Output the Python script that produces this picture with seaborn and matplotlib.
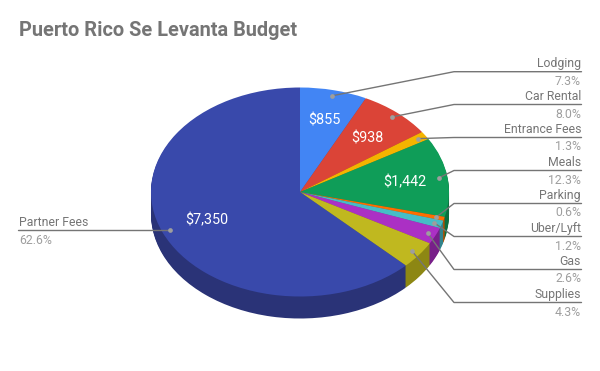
import numpy as np
import matplotlib
matplotlib.use('Agg')
import matplotlib.pyplot as plt
import seaborn as sns

categorias = ['Lodging', 'Car Rental', 'Entrance Fees', 'Meals', 'Parking',
              'Uber/Lyft', 'Gas', 'Supplies', 'Partner Fees']
valores = [855, 938, 150, 1442, 70, 140, 300, 500, 7350]
colores = ['#4285f4', '#db4437', '#f4b400', '#0f9d58', '#ff6d00',
           '#46bdc6', '#ab30c4', '#c0b81f', '#3949ab']
colores_lado = ['#2e5dab', '#993027', '#ab7e00', '#0b6e3e', '#b34c00',
                '#31848b', '#781f89', '#8d8713', '#2a3377']
titulo = 'Puerto Rico Se Levanta Budget'

# geometria en pixeles
W, H = 600, 371
CX, CY, RX, RY = 300, 192, 149, 104.5
PROF = 22

sns.set_theme(style='white')
plt.rcParams['font.family'] = ['Roboto', 'DejaVu Sans']


def px(x, y):
    return (x - CX) / RX, (CY - y) / RY


fig = plt.figure(figsize=(W / 100, H / 100), dpi=100)
ax = fig.add_axes([0, 0, 1, 1])

# lado de la tarta: capas desplazadas hacia abajo
for d in np.arange(PROF, 0, -1):
    ax.pie(valores, colors=colores_lado, startangle=90, counterclock=False,
           center=(0, -d / RY), wedgeprops={'linewidth': 0.6, 'edgecolor': 'none'})
ax.pie(valores, colors=colores, startangle=90, counterclock=False,
       wedgeprops={'linewidth': 0})

ax.set_aspect('auto')
ax.set_xlim(px(0, 0)[0], px(W, 0)[0])
ax.set_ylim(px(0, H)[1], px(0, 0)[1])
ax.axis('off')

total = sum(valores)
acumulado = np.cumsum(valores) - np.array(valores) / 2
angulos = acumulado / total * 2 * np.pi

GRIS_LINEA = '#757575'
GRIS_NOMBRE = '#757575'
GRIS_PCT = '#9e9e9e'
FS = 8.8

y_lineas = [71.7, 104.5, 137.5, 170.5, 203.5, 236.5, 269.5, 302.5]
# donde van los importes dentro de la tarta
pos_importes = {'Lodging': (324, 120), 'Car Rental': (367, 138.5),
                'Meals': (405, 182), 'Partner Fees': (206.5, 220)}

for i, cat in enumerate(categorias):
    ang = angulos[i]
    xd, yd = 0.945 * np.sin(ang), 0.945 * np.cos(ang)
    if cat == 'Partner Fees':
        xf, yf = px(18, 230)
        ax.plot([xf, xd], [yf, yf], color=GRIS_LINEA, lw=1, zorder=20)
        ax.text(*px(19, 222), cat, color=GRIS_NOMBRE, fontsize=FS, ha='left', va='center')
        ax.text(*px(19, 240), f'{valores[i] / total * 100:.1f}%', color=GRIS_PCT,
                fontsize=FS, ha='left', va='center')
    else:
        yl = y_lineas[i]
        x0, y0 = px(454, yl)
        x1, y1 = px(581.5, yl)
        ax.plot([xd, x0, x1], [yd, y0, y1], color=GRIS_LINEA, lw=1, zorder=20)
        ax.text(*px(581, yl - 8), cat, color=GRIS_NOMBRE, fontsize=FS, ha='right', va='center')
        ax.text(*px(581, yl + 9.5), f'{valores[i] / total * 100:.1f}%', color=GRIS_PCT,
                fontsize=FS, ha='right', va='center')
    ax.plot([xd], [yd], 'o', ms=3.4, color='#9e9e9e', mew=0, zorder=21)
    if cat in pos_importes:
        ax.text(*px(*pos_importes[cat]), f'${valores[i]:,}', color='white',
                fontsize=10.4, ha='center', va='center', zorder=22)

ax.text(*px(19, 31), titulo, color=GRIS_NOMBRE, fontsize=14.4, fontweight='bold',
        ha='left', va='center')

fig.savefig('out.png', dpi=100, facecolor='white')
